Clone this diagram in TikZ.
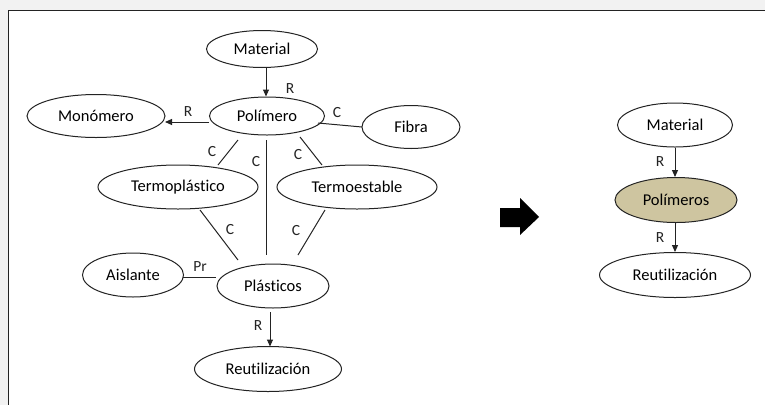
\documentclass[tikz,border=0pt]{standalone}
\usepackage{fontspec}
\setmainfont{Carlito}[Ligatures={NoCommon,NoRequired,NoContextual}]
\usetikzlibrary{shapes.geometric,arrows.meta,calc}
\definecolor{tan}{RGB}{206,197,160}
\definecolor{ink}{RGB}{35,35,35}
\begin{document}
\begin{tikzpicture}[x=1pt,y=-1pt,
  ell/.style={draw=ink,line width=1pt,ellipse,inner sep=0pt,fill=white,font=\fontsize{16.5}{19}\selectfont},
  con/.style={draw=ink,line width=1pt},
  arr/.style={con,-{Triangle[length=7pt,width=6pt]}},
  lab/.style={font=\fontsize{15.5}{18}\selectfont,inner sep=0pt,text=ink}]
\useasboundingbox (0,0) rectangle (765,405);
\fill[black!5] (0,0) rectangle (765,405);
\fill[white] (8,10) rectangle (765,405);
\draw[ink,line width=1.5pt] (765,10.5) -- (8.5,10.5) -- (8.5,405);
% left diagram
\node[ell,minimum width=111pt,minimum height=37pt] (mat1) at (262,49) {Material};
\node[ell,minimum width=115pt,minimum height=38pt] (pol1) at (267,116) {Polímero};
\node[ell,minimum width=138pt,minimum height=43pt] (mon) at (96,116) {Monómero};
\node[ell,minimum width=98pt,minimum height=43pt] (fib) at (411,127) {Fibra};
\node[ell,minimum width=160pt,minimum height=44pt] (tpl) at (178,187) {Termoplástico};
\node[ell,minimum width=160pt,minimum height=44pt] (tes) at (357,187) {Termoestable};
\node[ell,minimum width=101pt,minimum height=44pt] (ais) at (133,275) {Aislante};
\node[ell,minimum width=112pt,minimum height=44pt] (pla) at (273,286) {Plásticos};
\node[ell,minimum width=147pt,minimum height=45pt] (reu1) at (268,369) {Reutilización};
\draw[arr] ($(mat1.south)+(4,0)$) -- ($(pol1.north)+(-1,0)$);
\draw[arr] ($(pol1)+(-58,6)$) -- ($(mon)+(69,6)$);
\draw[con] ($(pol1)+(51,7)$) -- ($(fib)+(-49,0)$);
\draw[con] ($(pol1)+(-29,24)$) -- ($(tpl)+(40,-22)$);
\draw[con] ($(pol1)+(-1,24)$) -- ($(pla)+(-7,-31)$);
\draw[con] ($(pol1)+(33,21)$) -- ($(tes)+(-35,-22)$);
\draw[con] ($(tpl)+(22,23)$) -- ($(pla)+(-35,-26)$);
\draw[con] ($(tes)+(-32,23)$) -- ($(pla)+(25,-31)$);
\draw[con] ($(ais)+(50,2)$) -- ($(pla)+(-57,-9)$);
\draw[arr] ($(pla)+(-3,26)$) -- ($(reu1)+(2,-22.5)$);
\node[lab] (l1) at (290,89) {R};
\node[lab] (l2) at (188,112) {R};
\node[lab] (l3) at (337,113) {C};
\node[lab] (l4) at (212,152) {C};
\node[lab] (l5) at (256,162) {C};
\node[lab] (l6) at (298,155) {C};
\node[lab] (l7) at (230,230) {C};
\node[lab] (l8) at (296,231) {C};
\node[lab] (l9) at (200,267) {Pr};
\node[lab] (l10) at (258,326) {R};
% big arrow
\fill[black] (500,208) -- (520,208) -- (520,198) -- (539,217) -- (520,235) -- (520,227) -- (500,227) -- cycle;
% right diagram
\node[ell,minimum width=115pt,minimum height=44pt] (mat2) at (675,125) {Material};
\node[ell,minimum width=122pt,minimum height=45pt,fill=tan] (pol2) at (676,200) {Polímeros};
\node[ell,minimum width=151pt,minimum height=45pt] (reu2) at (675,275) {Reutilización};
\draw[arr] (mat2.south) -- (mat2.south |- pol2.north);
\draw[arr] (mat2.south |- pol2.south) -- (mat2.south |- reu2.north);
\node[lab] (l11) at (660,162) {R};
\node[lab] (l12) at (660,238) {R};
\end{tikzpicture}
\end{document}
